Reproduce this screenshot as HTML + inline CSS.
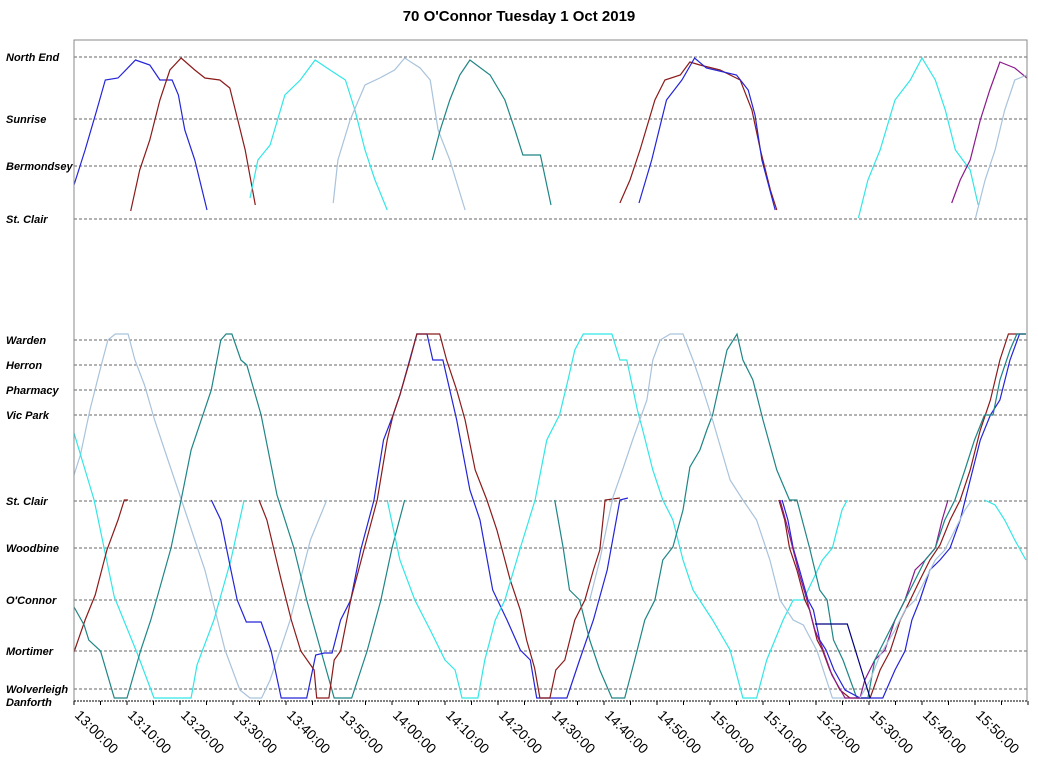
<!DOCTYPE html>
<html><head><meta charset="utf-8"><style>
html,body{margin:0;padding:0;background:#fff;}
svg{display:block;font-family:"Liberation Sans",Arial,sans-serif;}
</style></head><body>
<svg id="chart" width="1038" height="766" viewBox="0 0 1038 766">
<text x="519" y="21" text-anchor="middle" font-size="15" font-weight="bold">70  O'Connor  Tuesday  1 Oct 2019</text>
<g id="grid"></g><g id="traces"></g><g id="axes"></g>
</svg>
<script>
// times in minutes after 13:00
const xTickLabels = ["13:00:00","13:10:00","13:20:00","13:30:00","13:40:00","13:50:00","14:00:00","14:10:00","14:20:00","14:30:00","14:40:00","14:50:00","15:00:00","15:10:00","15:20:00","15:30:00","15:40:00","15:50:00"];
const topStops = ["North End","Sunrise","Bermondsey","St. Clair"];
const topStopDist = [162,100,53,0];
const botStops = ["Warden","Herron","Pharmacy","Vic Park","St. Clair","Woodbine","O'Connor","Mortimer","Wolverleigh","Danforth"];
const botStopDist = [358,333,308,283,197,150,98,47,9,0];

const topTraceColors = ["#2424d8","#8b1a1a","#33e6e6","#a9c3dc","#1f8585","#8b1a1a","#2424d8","#33e6e6","#8b1a8b","#a9c3dc"];
const topTraceTimes = [
[0,2.1,4.3,5.9,8.3,11.6,14.3,16.2,18.5,19.7,20.9,22.8,25.1],
[10.7,12.4,14.3,16.2,18.1,20.2,22.8,24.7,27.5,29.4,30.9,32.3,34.2],
[33.2,34.7,37,39.8,42.7,45.5,48.3,51.2,53,54.9,56.8,59.1],
[48.9,49.8,52.1,54.9,57.7,60.5,62.4,65.3,67.2,68.7,70.9,73.8],
[67.6,69.1,70.9,72.8,74.7,78.5,81.3,83.2,84.7,88,90],
[103,104.9,106.8,109.6,111.5,114.4,116.2,118.1,121.9,125.7,127.9,129.5,131.4,132.6],
[106.6,109,111.8,114.7,117.1,119.3,125,127.2,128.5,129.8,132.3],
[148,149.8,152.1,154.9,157.8,160,162.5,164.4,166.3,169.1,170.6],
[165.6,167.2,169.1,171,172.8,174.7,177.5,179.8],
[170.1,171.9,173.8,175.6,177.5,179.8]];
const topTraceDist = [
[34,69,109,139,141,159,154,139,139,124,89,59,9],
[8,49,79,119,149,161,149,141,139,131,99,69,14],
[21,59,74,124,139,159,149,139,109,69,39,9],
[16,59,99,134,141,149,161,151,139,89,59,9],
[59,89,119,144,159,144,119,89,64,64,14],
[16,39,69,119,139,144,157,154,149,139,109,69,29,9],
[16,59,119,139,161,151,144,129,104,59,9],
[1,39,69,119,139,161,139,109,69,49,14],
[16,39,59,99,129,157,151,141],
[1,39,69,109,139,144]];

const botTraceColors = ["#a9c3dc","#33e6e6","#8b1a1a","#1f8585","#2424d8","#8b1a1a","#33e6e6","#1f8585","#a9c3dc","#8b1a1a","#2424d8","#8b1a8b","#1f8585","#a9c3dc","#000080","#33e6e6"];
const botTraceTimes = [
[0,1.2,3,4.9,6.4,7.8,10.2,11.5,13.3,15.2,17.1,19,20.9,22.8,24.7,26.6,28.5,31.3,33.2,35.4,37,38.9,40.8,42.7,44.6,47.7],
[0,3.8,7.6,11.9,15.1,22.1,23.2,26.4,29.6,32.1],
[0,2.1,4,6.2,8.3,9.5,10.2],
[0,1.9,2.8,5,7.6,10,12.6,14.5,18.3,20.2,22.1,25.9,27.7,28.7,29.8,31.5,32.6,35.3,38.3,41.5,43.9,46.6,49.1,52.4,55.3,57.9,60,62.4],
[25.9,27.7,29.6,30.8,32.5,35.3,37.2,39.1,43.9,45.6,47.2,48.7,50.3,52.2,54.1,56.6,58.4,60.2,61.5,64.7,66.6,67.7,69.6,72.2,74.7,76.6,79,81.7,84.2,86.1,87.3,93,95.4,98,100.6,103,104.5],
[34.9,36.4,39.1,41,42.8,45.3,45.8,48.1,49.1,50.3,52.2,54.8,57.2,59.1,60.2,61.5,63.4,64.7,69,70.3,72.2,73.8,75.7,77.9,79.8,81.3,82.3,84.2,85.4,86.9,87.9,89.8,90.9,92.6,94.5,96.4,98,99.2,100.2,103],
[59.1,61.5,64.3,67.2,70,71.9,73.2,76.2,77.5,79.5,81.3,84.2,87,89.2,91.6,93.2,94.5,96.1,101.5,103,104.3,106.3,107.3,109.2,111.1,113,114.9,116.8,120.5,123.8,126.2,128.8,130.7,133.8,135.7,137.6,141.2,143.1,144.9,145.9],
[90.7,92.3,93.5,95.4,97.3,99.2,101.5,103.9,105.8,107.7,109.6,111.1,113,114.9,116.2,118.1,119.4,120.5,123.2,125.1,126.2,128.1,130,132.6,135,136.4,138.8,140.7,142.1,143.3,145.1,147.7,150.2],
[97.3,99.2,101.7,103.5,105.4,108.1,109.2,110.6,112.5,114.9,116.8,118.1,120.5,123.8,126.2,128.8,131.3,133.2,135.7,137.6,140.2,143.1,145.9],
[133,134.1,135,136.4,137.9,138.8,140.2,141.2,142.6,144.5,146.4,150.2,152.1,154,155.9,157.8,159.6,161.5,163.4,165.3,167.2,169.1,171,172.9,174.7,176.3,179.6],
[133.6,134.7,135.7,136.9,138.5,139.5,140.7,141.9,143.4,145.5,148.3,152.6,154.9,156.8,158.1,159.6,161.5,163.4,165.3,167.2,169.1,171,172.9,174.7,176.6,178.4,179.6],
[133.2,134.5,135.7,136.9,138.3,139.8,141.2,143,145.5,148.3,149.2,151.1,153,154.9,156.8,158.7,160.6,162.5,163.8,164.9],
[149.8,151.1,153,154.9,156.8,158.7,160.6,162.5,164.3,166.2,168.1,169.9,171.8,173.4,174.7,176.6,177.9,179.6],
[148.3,150.2,152.1,154.9,156.8,158.7,160.6,162.5,164.3,166.2,168.1,169.4],
[139.8,145.9,148,150.2],
[171.8,173.8,175.6,177.5,179.6]];
const botTraceDist = [
[223,243,288,328,358,364,364,338,313,278,248,218,188,158,128,88,48,8,0,0,18,48,78,118,158,198],
[265,198,101,45,0,0,33,78,138,198],
[46,78,103,148,178,198,198],
[91,73,58,47,0,0,48,78,150,198,248,308,358,364,364,338,333,283,203,150,98,47,0,0,47,98,150,198],
[198,178,128,98,76,76,47,0,0,43,45,45,78,98,148,198,258,283,303,364,364,338,338,278,208,178,108,78,48,38,0,0,38,78,128,198,200],
[198,178,118,78,47,28,0,0,38,47,98,150,198,258,283,303,338,364,364,338,308,278,228,198,168,138,118,88,58,30,0,0,28,38,78,98,128,148,198,200],
[198,138,98,68,38,28,0,0,38,78,98,150,198,258,283,318,348,364,364,338,338,288,268,228,198,178,138,108,78,48,0,0,38,78,98,98,138,150,188,198],
[198,150,108,98,58,28,0,0,38,78,98,138,151,188,231,248,268,283,348,364,338,318,278,228,198,198,150,108,98,58,38,0,0],
[98,138,201,228,258,298,338,358,364,364,338,318,278,218,198,178,138,98,78,73,47,0,0],
[198,178,150,128,98,88,58,48,28,8,0,0,28,47,78,98,118,138,153,178,198,228,268,298,338,364,364],
[198,178,150,128,98,88,58,48,28,8,0,0,28,47,78,98,128,138,150,178,218,258,283,298,338,364,364],
[198,173,148,123,98,68,50,23,0,0,18,38,48,78,98,128,138,150,178,198],
[0,38,58,78,98,118,138,150,178,198,228,258,283,283,318,348,364,364],
[0,18,43,68,88,98,118,138,148,168,188,198],
[74,74,38,0],
[198,193,178,158,138]];

const NS="http://www.w3.org/2000/svg";
const X0=74, X1=1027, PX_PER_MIN=5.3;
function xScale(m){return X0+m*PX_PER_MIN;}
function yTop(d){return 219-d;}
function yBot(d){return 698-d;}
function mk(tag,attrs,parent){const e=document.createElementNS(NS,tag);for(const k in attrs)e.setAttribute(k,attrs[k]);parent.appendChild(e);return e;}
const grid=document.getElementById('grid'), traces=document.getElementById('traces'), axes=document.getElementById('axes');

function stopRow(name,y,i,sec){
  const ln=mk('line',{x1:X0,x2:X1,y1:y,y2:y,stroke:'#666','stroke-width':1,'stroke-dasharray':'3,2'},grid);
  
  
  const t=mk('text',{x:6,y:y+4,'font-size':11,'font-weight':'bold','font-style':'italic'},axes);
  t.textContent=name;
  
  
}
topStops.forEach((s,i)=>stopRow(s,yTop(topStopDist[i]),i,'top'));
botStops.forEach((s,i)=>{ if(s!=='Danforth') stopRow(s,yBot(botStopDist[i]),i,'bottom'); });
const dl=mk('text',{x:6,y:706,'font-size':11,'font-weight':'bold','font-style':'italic'},axes);
dl.textContent='Danforth';



const fr=mk('path',{d:'M74,701 V40 H1027 V701',fill:'none',stroke:'#888','stroke-width':1},axes);


const xa=mk('line',{x1:74,x2:1027,y1:701,y2:701,stroke:'#000','stroke-width':1,'stroke-dasharray':'2,1'},axes);


for(let m=0;m<=180;m+=5){
  const tk=mk('line',{x1:xScale(m),x2:xScale(m),y1:701,y2:705,stroke:'#000'},axes);
  
  
}
xTickLabels.forEach((lab,i)=>{
  const x=xScale(i*10);
  const t=mk('text',{x:x,y:716,'font-size':14,transform:'rotate(45 '+x+' 716)'},axes);
  t.textContent=lab;
  
  
});

function drawTrace(times,dists,color,yf,name){
  const pts=times.map((m,j)=>xScale(m).toFixed(1)+','+yf(dists[j]).toFixed(1)).join(' ');
  const p=mk('polyline',{points:pts,fill:'none',stroke:color,'stroke-width':1.2},traces);
  
  
}
topTraceTimes.forEach((t,i)=>drawTrace(t,topTraceDist[i],topTraceColors[i],yTop,'north-end-branch-trip-'+(i+1)));
botTraceTimes.forEach((t,i)=>drawTrace(t,botTraceDist[i],botTraceColors[i],yBot,'main-route-trip-'+(i+1)));
</script>
</body></html>
